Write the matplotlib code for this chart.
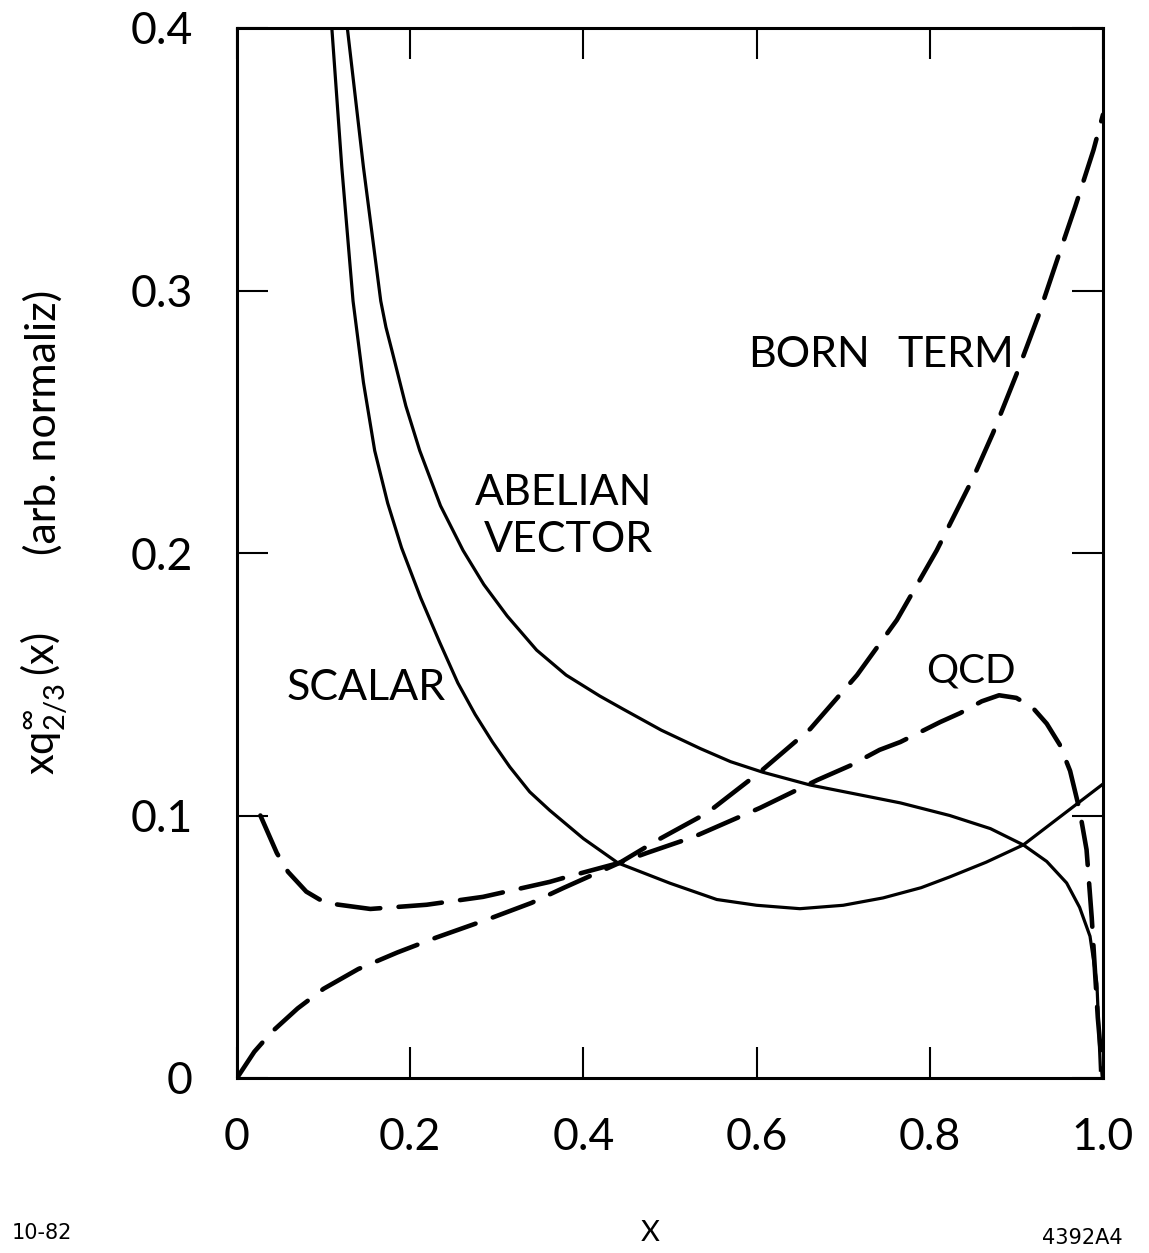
import matplotlib
matplotlib.use("Agg")
import matplotlib.pyplot as plt

plt.rcParams["font.family"] = ["Lato", "DejaVu Sans"]
plt.rcParams["mathtext.fontset"] = "custom"
plt.rcParams["mathtext.rm"] = "Lato"

scalar_x = [0.1095, 0.121, 0.134, 0.146, 0.159, 0.174, 0.190, 0.212, 0.234, 0.255,
            0.275, 0.295, 0.315, 0.338, 0.361, 0.400, 0.440, 0.500, 0.554, 0.600,
            0.650, 0.700, 0.746, 0.790, 0.823, 0.865, 0.908, 0.950, 1.000]
scalar_y = [0.400, 0.347, 0.296, 0.265, 0.239, 0.219, 0.202, 0.183, 0.166, 0.1505,
            0.1385, 0.128, 0.1185, 0.109, 0.102, 0.0912, 0.0819, 0.0742, 0.068, 0.0658,
            0.0645, 0.0658, 0.0686, 0.0725, 0.0766, 0.0822, 0.0888, 0.0994, 0.112]

abelian_x = [0.1274, 0.146, 0.166, 0.172, 0.179, 0.195, 0.211, 0.235, 0.261, 0.285,
             0.312, 0.346, 0.380, 0.419, 0.446, 0.490, 0.535, 0.570, 0.607, 0.662,
             0.708, 0.766, 0.823, 0.870, 0.908, 0.935, 0.958, 0.973, 0.985, 0.993,
             0.997]
abelian_y = [0.400, 0.347, 0.296, 0.286, 0.277, 0.256, 0.239, 0.218, 0.201, 0.188,
             0.176, 0.163, 0.1535, 0.1455, 0.1405, 0.1325, 0.1255, 0.1205, 0.1165,
             0.1116, 0.1086, 0.1048, 0.100, 0.0950, 0.0888, 0.0825, 0.0743, 0.065,
             0.054, 0.036, 0.003]

born_x = [0.0, 0.020, 0.040, 0.070, 0.100, 0.140, 0.185, 0.230, 0.290, 0.340, 0.377,
          0.442, 0.486, 0.543, 0.604, 0.662, 0.716, 0.762, 0.808, 0.850, 0.873, 0.900,
          0.925, 0.947, 0.968, 0.989, 1.0]
born_y = [0.0, 0.0100, 0.0175, 0.0265, 0.0340, 0.0415, 0.0478, 0.0535, 0.0605, 0.0667,
          0.0724, 0.082, 0.0907, 0.101, 0.1166, 0.133, 0.1535, 0.1745, 0.201, 0.2286,
          0.2457, 0.268, 0.290, 0.3116, 0.332, 0.3535, 0.367]

qcd_x = [0.027, 0.046, 0.059, 0.080, 0.102, 0.154, 0.219, 0.284, 0.361, 0.381, 0.442,
         0.473, 0.527, 0.604, 0.670, 0.708, 0.742, 0.766, 0.812, 0.835, 0.860, 0.880,
         0.900, 0.919, 0.935, 0.950, 0.962, 0.973, 0.981, 0.987, 0.994, 1.0]
qcd_y = [0.100, 0.0857, 0.0785, 0.071, 0.0667, 0.0644, 0.066, 0.069, 0.0747, 0.0766,
         0.082, 0.0857, 0.0918, 0.1029, 0.1135, 0.119, 0.125, 0.128, 0.1356, 0.139,
         0.1435, 0.1458, 0.1448, 0.141, 0.135, 0.127, 0.117, 0.102, 0.087, 0.061,
         0.023, 0.0]

x_ticks = [0, 0.2, 0.4, 0.6, 0.8, 1.0]
x_ticklabels = ["0", "0.2", "0.4", "0.6", "0.8", "1.0"]
y_ticks = [0, 0.1, 0.2, 0.3, 0.4]
y_ticklabels = ["0", "0.1", "0.2", "0.3", "0.4"]

W, H = 1149, 1253
fig = plt.figure(figsize=(W / 100, H / 100), dpi=100)
ax = fig.add_axes([237 / W, 175 / H, 866 / W, 1050 / H])

ax.plot(scalar_x, scalar_y, color="black", lw=2.3, solid_joinstyle="round")
ax.plot(abelian_x, abelian_y, color="black", lw=2.3, solid_joinstyle="round")
dash = (0, (9.5, 4.0))
ax.plot(born_x, born_y, color="black", lw=3.3, linestyle=dash, dash_capstyle="round")
ax.plot(qcd_x, qcd_y, color="black", lw=3.3, linestyle=dash, dash_capstyle="round")

ax.set_xlim(0, 1.0)
ax.set_ylim(0, 0.4)
for s in ax.spines.values():
    s.set_linewidth(2.2)

ax.set_xticks(x_ticks)
ax.set_xticklabels(x_ticklabels)
ax.set_yticks(y_ticks)
ax.set_yticklabels(y_ticklabels)
ax.tick_params(direction="in", length=22, width=1.5, top=True, right=True,
               labelsize=32, pad=32)
ax.tick_params(axis="x", pad=28)

# curve labels
txt = dict(fontsize=31, color="black", va="baseline")
ax.text(0.480, 0.2183, "ABELIAN", ha="right", **txt)
ax.text(0.480, 0.2004, "VECTOR", ha="right", **txt)
ax.text(0.590, 0.2709, "BORN", ha="left", **txt)
ax.text(0.763, 0.2709, "TERM", ha="left", **txt)
ax.text(0.7956, 0.1505, "QCD", ha="left", fontsize=29, va="baseline")
ax.text(0.0577, 0.1440, "SCALAR", ha="left", **txt)

# y axis label in two pieces
fig.text(43 / W, 1 - 422 / H, "(arb. normaliz)", rotation=90, fontsize=31,
         ha="center", va="center")
fig.text(44 / W, 1 - 704 / H, r"$\mathrm{xq}^{\infty}_{2/3}\,\mathrm{(x)}$",
         rotation=90, fontsize=30, ha="center", va="center")

fig.text(650 / W, 1 - 1233 / H, "X", fontsize=21, ha="center", va="center")
fig.text(12 / W, 1 - 1233 / H, "10-82", fontsize=15, ha="left", va="center",
         family="DejaVu Sans")
fig.text(1042 / W, 1 - 1238 / H, "4392A4", fontsize=15, ha="left", va="center",
         family="DejaVu Sans")

fig.savefig("out.png", dpi=100, facecolor="white")
